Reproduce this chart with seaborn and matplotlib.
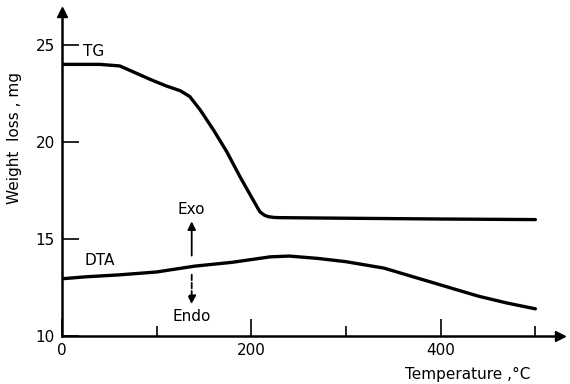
import matplotlib
matplotlib.use("Agg")
import matplotlib.pyplot as plt
import seaborn as sns
import pandas as pd
from matplotlib.ticker import MultipleLocator

tg_temp = [0, 20, 40, 61, 75, 93, 110, 125, 135, 146, 160, 174, 188, 202, 209, 214, 218, 224, 230, 300, 400, 500]
tg_mass = [24.0, 24.0, 24.0, 23.92, 23.62, 23.23, 22.89, 22.64, 22.34, 21.65, 20.62, 19.5, 18.21, 17.0, 16.4, 16.22, 16.15, 16.11, 16.1, 16.07, 16.03, 16.0]

dta_temp = [0, 25, 60, 100, 140, 180, 220, 240, 270, 300, 340, 400, 440, 470, 500]
dta_val = [12.95, 13.05, 13.15, 13.3, 13.6, 13.8, 14.08, 14.12, 14.0, 13.83, 13.5, 12.63, 12.05, 11.7, 11.4]

x_major = [0, 200, 400]
y_major = [10, 15, 20, 25]

sns.set_style("ticks")
plt.rcParams['font.family'] = ['DejaVu Sans']
plt.rcParams['text.color'] = 'black'
plt.rcParams['axes.labelcolor'] = 'black'
plt.rcParams['xtick.color'] = 'black'
plt.rcParams['ytick.color'] = 'black'

fig = plt.figure(figsize=(5.7, 3.84), dpi=100)
ax = fig.add_axes([62/570, 48/384, (560-62)/570, (336-12)/384])

tg = pd.DataFrame({"T": tg_temp, "W": tg_mass})
dta = pd.DataFrame({"T": dta_temp, "W": dta_val})
sns.lineplot(data=tg, x="T", y="W", ax=ax, color="black", lw=2.4)
sns.lineplot(data=dta, x="T", y="W", ax=ax, color="black", lw=2.4)

ax.set_xlim(0, 526)
ax.set_ylim(10, 26.7)
ax.set_xticks(x_major)
ax.set_xticklabels([str(v) for v in x_major])
ax.xaxis.set_minor_locator(MultipleLocator(100))
ax.set_yticks(y_major)
ax.set_yticklabels([str(v) for v in y_major])
ax.tick_params(axis="both", which="major", direction="in", length=12, width=1.2, labelsize=11, pad=5, colors="black")
ax.tick_params(axis="x", which="minor", direction="in", length=7, width=1.2, colors="black")
for s in ["top", "right"]:
    ax.spines[s].set_visible(False)
for s in ["left", "bottom"]:
    ax.spines[s].set_linewidth(1.8)
    ax.spines[s].set_color("black")
ax.plot(1, 10, ">k", ms=7, transform=ax.get_yaxis_transform(), clip_on=False)
ax.plot(0, 1, "^k", ms=7, transform=ax.get_xaxis_transform(), clip_on=False)

ax.set_xlabel("Temperature ,°C", fontsize=11, color="black")
ax.xaxis.set_label_coords((468-62)/498, -0.095)
ax.set_ylabel("Weight  loss , mg", fontsize=11, color="black")
ax.yaxis.set_label_coords(-0.08, 0.61)

ax.text(22, 24.3, "TG", fontsize=11, ha="left", va="bottom", color="black")
ax.text(24, 13.5, "DTA", fontsize=11, ha="left", va="bottom", color="black")
ax.text(137, 16.15, "Exo", fontsize=11, ha="center", va="bottom", color="black")
ax.text(137, 11.0, "Endo", fontsize=11, ha="center", va="center", color="black")
ax.annotate("", xy=(137, 16.05), xytext=(137, 14.0),
            arrowprops=dict(arrowstyle="-|>", color="black", lw=1.3, mutation_scale=12))
ax.annotate("", xy=(137, 11.5), xytext=(137, 13.3),
            arrowprops=dict(arrowstyle="-|>", color="black", lw=1.3, ls=(0, (3, 1.5)), mutation_scale=12))

fig.savefig("out.png", dpi=100)
